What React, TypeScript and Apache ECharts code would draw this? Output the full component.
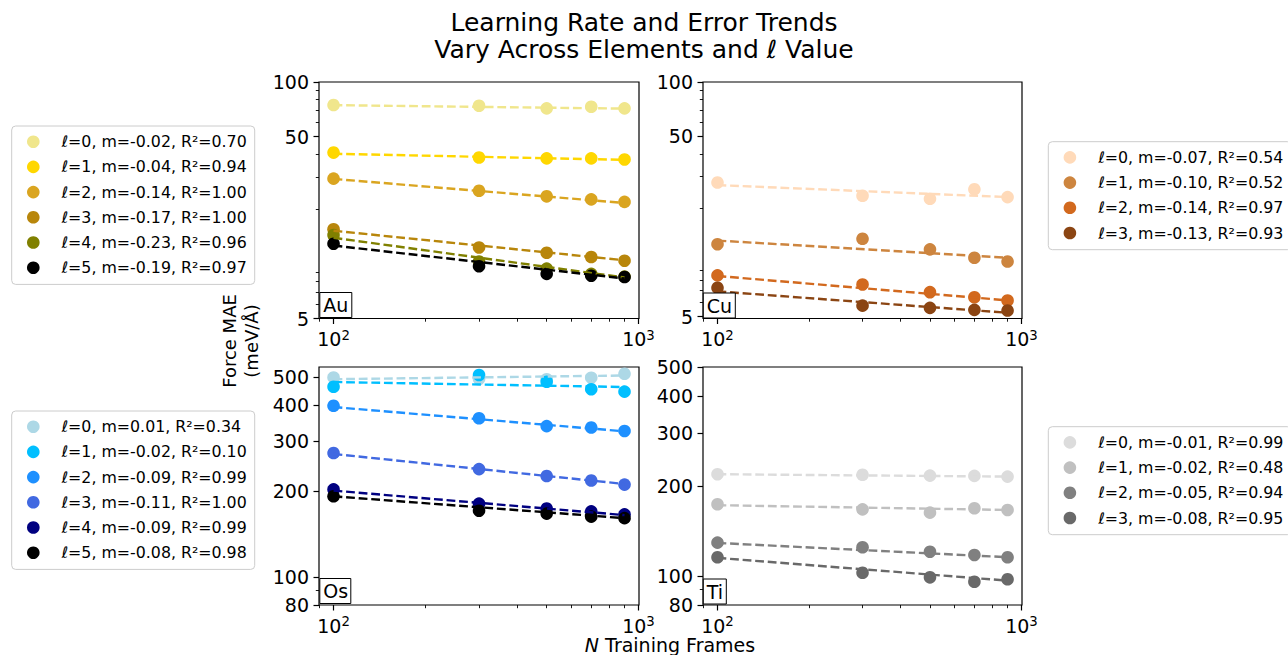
import React, { useEffect, useRef } from "react";
import * as echarts from "echarts";

const FONT = "DejaVu Sans";

// ---------- data ----------
const trainingFrames = [100, 300, 500, 700, 900];
const fitFrames = [100, 900];
const xMajorTicks = [100, 1000];
const xMinorTicks = [90, 200, 300, 400, 500, 600, 700, 800, 900];

const upperYTicks = [5, 50, 100];
const upperYMinor = [6, 7, 8, 9, 20, 30, 40, 60, 70, 80, 90];
const lowerYTicks = [80, 100, 200, 300, 400, 500];
const lowerYMinor = [90];

const auLegend = [
  "ℓ=0, m=-0.02, R²=0.70",
  "ℓ=1, m=-0.04, R²=0.94",
  "ℓ=2, m=-0.14, R²=1.00",
  "ℓ=3, m=-0.17, R²=1.00",
  "ℓ=4, m=-0.23, R²=0.96",
  "ℓ=5, m=-0.19, R²=0.97",
];
const auColors = ["#F0E68C", "#FFD700", "#DAA520", "#B8860B", "#808000", "#000000"];
const auMAE = [
  [74.7, 74.0, 71.6, 73.1, 71.6],
  [40.9, 38.4, 38.0, 38.0, 37.5],
  [29.4, 25.2, 23.5, 22.6, 21.9],
  [15.5, 12.3, 11.5, 10.9, 10.4],
  [14.4, 10.3, 9.4, 8.8, 8.5],
  [12.9, 9.7, 8.8, 8.6, 8.45],
];
const auFit = [
  [74.6, 71.4],
  [40.3, 37.3],
  [29.3, 21.6],
  [15.2, 10.45],
  [13.9, 8.4],
  [12.6, 8.3],
];

const cuLegend = [
  "ℓ=0, m=-0.07, R²=0.54",
  "ℓ=1, m=-0.10, R²=0.52",
  "ℓ=2, m=-0.14, R²=0.97",
  "ℓ=3, m=-0.13, R²=0.93",
];
const cuColors = ["#FFDAB9", "#CD853F", "#D2691E", "#8B4513"];
const cuMAE = [
  [27.7, 23.4, 22.5, 25.4, 23.0],
  [12.6, 13.5, 11.8, 10.6, 10.1],
  [8.46, 7.54, 6.83, 6.4, 6.14],
  [7.22, 5.75, 5.59, 5.45, 5.4],
];
const cuFit = [
  [26.8, 23.0],
  [13.2, 10.6],
  [8.4, 6.15],
  [6.9, 5.25],
];

const osLegend = [
  "ℓ=0, m=0.01, R²=0.34",
  "ℓ=1, m=-0.02, R²=0.10",
  "ℓ=2, m=-0.09, R²=0.99",
  "ℓ=3, m=-0.11, R²=1.00",
  "ℓ=4, m=-0.09, R²=0.99",
  "ℓ=5, m=-0.08, R²=0.98",
];
const osColors = ["#ADD8E6", "#00BFFF", "#1E90FF", "#4169E1", "#000080", "#000000"];
const osMAE = [
  [500, 494, 493, 499, 515],
  [464, 510, 483, 455, 446],
  [398, 360, 338, 334, 325],
  [272, 239, 226, 218, 211],
  [203, 181, 174, 170, 166],
  [192, 171, 167, 163, 161],
];
const osFit = [
  [493, 508],
  [482, 463],
  [394, 324],
  [270, 212],
  [201, 165],
  [192, 161],
];

const tiLegend = [
  "ℓ=0, m=-0.01, R²=0.99",
  "ℓ=1, m=-0.02, R²=0.48",
  "ℓ=2, m=-0.05, R²=0.94",
  "ℓ=3, m=-0.08, R²=0.95",
];
const tiColors = ["#DCDCDC", "#C0C0C0", "#808080", "#696969"];
const tiMAE = [
  [219, 218, 216.7, 216.2, 215],
  [173.8, 167.1, 162.9, 168.5, 166.3],
  [129.3, 124.8, 120.6, 117.6, 115.5],
  [115.5, 102.5, 99.0, 95.7, 97.5],
];
const tiFit = [
  [219, 215],
  [172.5, 166.3],
  [129, 115.6],
  [115, 96.5],
];

const panels = [
  { tag: "Au", legend: auLegend, colors: auColors, values: auMAE, fits: auFit, yMin: 5, yMax: 100, yTicks: upperYTicks, yMinor: upperYMinor },
  { tag: "Cu", legend: cuLegend, colors: cuColors, values: cuMAE, fits: cuFit, yMin: 4.88, yMax: 100, yTicks: upperYTicks, yMinor: upperYMinor },
  { tag: "Os", legend: osLegend, colors: osColors, values: osMAE, fits: osFit, yMin: 80, yMax: 544, yTicks: lowerYTicks, yMinor: lowerYMinor },
  { tag: "Ti", legend: tiLegend, colors: tiColors, values: tiMAE, fits: tiFit, yMin: 80, yMax: 500, yTicks: lowerYTicks, yMinor: lowerYMinor },
];

const chartTitle = "Learning Rate and Error Trends\nVary Across Elements and ℓ Value";

// ---------- layout ----------
const gridBoxes = [
  { left: 319, top: 82, width: 320, height: 236.5 },
  { left: 703, top: 82, width: 319, height: 236.5 },
  { left: 319, top: 367, width: 320, height: 238 },
  { left: 703, top: 367, width: 319, height: 238 },
];
const legendBoxes = [
  { left: 11.7, top: 126 },
  { left: 1048.3, top: 141.7 },
  { left: 11.7, top: 411 },
  { left: 1048.3, top: 426.7 },
];
const tagBoxes = [
  { left: 320, top: 292 },
  { left: 703.5, top: 292.5 },
  { left: 320, top: 578 },
  { left: 703.5, top: 578.5 },
];
const TICK_FONT = 19;

function buildOption() {
  const grid: any[] = [];
  const xAxis: any[] = [];
  const yAxis: any[] = [];
  const series: any[] = [];
  const legend: any[] = [];
  const title: any[] = [];
  const tickLine = { color: "#000", width: 1.2 };
  const minorLine = { color: "#000", width: 0.9 };

  panels.forEach((p, pi) => {
    const g = gridBoxes[pi];
    grid.push({ ...g, show: true, borderColor: "#000", borderWidth: 1.2, backgroundColor: "transparent", containLabel: false, outerBoundsMode: "none" });
    const xBase = {
      type: "log",
      logBase: 10,
      gridIndex: pi,
      position: "bottom",
      min: 89.6,
      max: 1004,
      axisLine: { show: false },
      splitLine: { show: false },
      minorTick: { show: false },
      minorSplitLine: { show: false },
    };
    xAxis.push({
      ...xBase,
      axisTick: { show: true, inside: false, length: 5.5, lineStyle: tickLine, customValues: xMajorTicks },
      axisLabel: {
        show: true,
        customValues: xMajorTicks,
        margin: 10,
        color: "#000",
        fontFamily: FONT,
        fontSize: TICK_FONT,
        formatter: (v: number) => "{b|10}{s|" + Math.round(Math.log10(v)) + "}",
        rich: {
          b: { fontFamily: FONT, fontSize: TICK_FONT, lineHeight: 20, verticalAlign: "bottom", color: "#000" },
          s: { fontFamily: FONT, fontSize: 13.3, lineHeight: 4, verticalAlign: "top", color: "#000" },
        },
      },
    });
    xAxis.push({
      ...xBase,
      axisTick: { show: true, inside: false, length: 3.2, lineStyle: minorLine, customValues: xMinorTicks },
      axisLabel: { show: false },
    });
    const yBase = {
      type: "log",
      logBase: 10,
      gridIndex: pi,
      position: "left",
      min: p.yMin,
      max: p.yMax,
      axisLine: { show: false },
      splitLine: { show: false },
      minorTick: { show: false },
      minorSplitLine: { show: false },
    };
    yAxis.push({
      ...yBase,
      axisTick: { show: true, inside: false, length: 5.5, lineStyle: tickLine, customValues: p.yTicks },
      axisLabel: {
        show: true,
        customValues: p.yTicks,
        margin: 10,
        color: "#000",
        fontFamily: FONT,
        fontSize: TICK_FONT,
        formatter: (v: number) => String(Math.round(v)),
      },
    });
    yAxis.push({
      ...yBase,
      axisTick: { show: true, inside: false, length: 3.2, lineStyle: minorLine, customValues: p.yMinor },
      axisLabel: { show: false },
    });

    p.values.forEach((vals, i) => {
      series.push({
        type: "scatter",
        name: p.legend[i],
        xAxisIndex: pi * 2,
        yAxisIndex: pi * 2,
        data: trainingFrames.map((x, j) => [x, vals[j]]),
        symbol: "circle",
        symbolSize: 12.6,
        itemStyle: { color: p.colors[i], opacity: 1 },
        silent: true,
      });
      series.push({
        type: "line",
        name: p.tag + " fit " + i,
        xAxisIndex: pi * 2,
        yAxisIndex: pi * 2,
        data: fitFrames.map((x, j) => [x, p.fits[i][j]]),
        symbol: "none",
        showSymbol: false,
        lineStyle: { color: p.colors[i], width: 2.4, type: [8.8, 3.8] },
        itemStyle: { color: p.colors[i] },
        silent: true,
      });
    });

    legend.push({
      data: p.legend,
      left: legendBoxes[pi].left,
      top: legendBoxes[pi].top,
      orient: "vertical",
      icon: "circle",
      itemWidth: 12.6,
      itemHeight: 12.6,
      itemGap: 9.2,
      padding: [7.7, 8, 8.7, 15.3],
      borderColor: "#cccccc",
      borderWidth: 1,
      borderRadius: 4,
      backgroundColor: "rgba(255,255,255,0.8)",
      selectedMode: false,
      textStyle: { fontFamily: FONT, fontSize: 15.8, color: "#000", lineHeight: 16, padding: [0, 0, 0, 17] },
    });

    title.push({
      text: p.tag,
      left: tagBoxes[pi].left,
      top: tagBoxes[pi].top,
      padding: [2, 3.3, 2, 3.3],
      borderColor: "#000",
      borderWidth: 1,
      backgroundColor: "#fff",
      z: 10,
      textStyle: { fontFamily: FONT, fontSize: 19, fontWeight: "normal", color: "#000", lineHeight: 22 },
    });
  });

  return {
    animation: false,
    backgroundColor: "#fff",
    title,
    grid,
    xAxis,
    yAxis,
    legend,
    series,
    graphic: [
      {
        type: "text",
        x: 644,
        y: 8.5,
        style: {
          text: chartTitle,
          font: "25px 'DejaVu Sans'",
          fontFamily: FONT,
          fontSize: 25,
          lineHeight: 27,
          fill: "#000",
          align: "center",
          verticalAlign: "top",
        },
      },
      {
        type: "text",
        x: 240,
        y: 341,
        rotation: Math.PI / 2,
        style: {
          text: "{a|Force MAE}\n{a|(meV/Å)}",
          fill: "#000",
          align: "center",
          verticalAlign: "middle",
          rich: {
            a: { fontFamily: FONT, fontSize: 18, lineHeight: 22, fill: "#000" },
          },
        },
      },
      {
        type: "text",
        x: 670,
        y: 645,
        style: {
          text: "{i|N}{r| Training Frames}",
          fill: "#000",
          align: "center",
          verticalAlign: "middle",
          rich: {
            i: { fontFamily: FONT, fontSize: 19, lineHeight: 19, fontStyle: "italic", fill: "#000" },
            r: { fontFamily: FONT, fontSize: 19, lineHeight: 19, fill: "#000" },
          },
        },
      },
    ],
  };
}

export default function App() {
  const ref = useRef<HTMLDivElement>(null);
  useEffect(() => {
    if (!ref.current) return;
    const chart = echarts.init(ref.current, undefined, { renderer: "svg" });
    chart.setOption(buildOption() as any);
    return () => chart.dispose();
  }, []);
  return (
    <div
      ref={ref}
      style={{ position: "absolute", left: 0, top: 0, width: 1288, height: 655 }}
    />
  );
}
